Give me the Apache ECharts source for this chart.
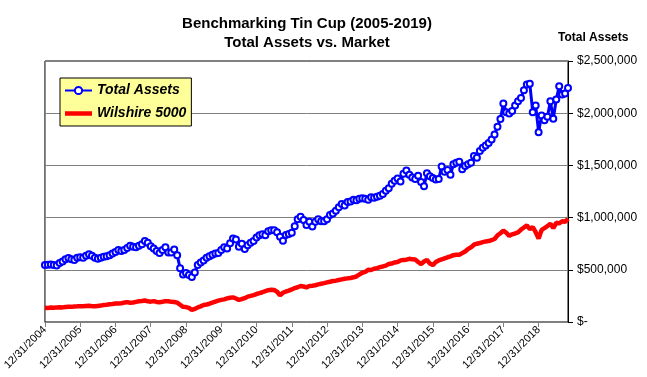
<!DOCTYPE html>
<html>
<head>
<meta charset="utf-8">
<script src="https://cdn.jsdelivr.net/npm/echarts@6/dist/echarts.min.js"></script>
<style>
  html, body { margin: 0; padding: 0; background: #fff; }
  #main { width: 647px; height: 377px; }
</style>
</head>
<body>
<div id="main"></div>
<script>
// month-end values, Dec 2004 .. Oct 2019, in thousands of dollars
var totalAssets = [
  546, 548, 550, 545, 540, 565, 580, 600, 612, 600, 595, 615,
  620, 615, 635, 648, 635, 615, 605, 615, 625, 630, 640, 655,
  670, 690, 680, 690, 710, 730, 720, 715, 730, 745, 775, 760,
  725, 705, 680, 660, 690, 715, 665, 665, 695, 640, 515, 455,
  470, 450, 430, 475, 545, 570, 590, 615, 630, 645, 655, 660,
  690, 715, 705, 755, 800, 790, 720, 750, 700, 735, 760, 775,
  810, 830, 840, 830, 870, 880, 880, 860, 817, 779, 833, 843,
  856, 918, 984, 1009, 977, 930, 960, 915, 960, 985, 965, 965,
  985, 1025, 1040, 1065, 1100, 1130, 1115, 1150, 1155, 1170, 1165, 1180,
  1185, 1180, 1170, 1195, 1190, 1200, 1210, 1225, 1258, 1280, 1325, 1354,
  1375, 1345, 1420, 1450, 1410, 1385, 1370, 1400, 1340, 1300, 1425, 1395,
  1380, 1365, 1370, 1490, 1440, 1455, 1410, 1510, 1525, 1535, 1462, 1494,
  1510, 1525, 1589, 1573, 1637, 1669, 1690, 1715, 1748, 1796, 1870, 1945,
  2092, 2010, 1997, 2020, 2073, 2115, 2146, 2220, 2274, 2283, 2010, 2073,
  1818, 1978, 1933, 1965, 2115, 1946, 2131, 2258, 2178, 2188, 2242
];
var wilshire = [
  137, 135, 138, 136, 140, 141, 140, 143, 146, 145, 149, 150,
  152, 150, 153, 156, 152, 151, 154, 157, 162, 165, 170, 172,
  177, 178, 180, 186, 190, 184, 187, 193, 198, 201, 206, 198,
  195, 200, 192, 189, 194, 200, 198, 193, 192, 185, 165, 145,
  143, 135, 115, 125, 140, 150, 163, 168, 175, 185, 195, 204,
  212, 217, 226, 232, 236, 225, 211, 220, 228, 243, 250, 258,
  268, 276, 285, 296, 305, 308, 306, 290, 255, 280, 292, 300,
  312, 325, 333, 345, 340, 332, 345, 348, 352, 360, 366, 372,
  380, 386, 392, 396, 402, 408, 414, 418, 422, 428, 436, 455,
  472, 480, 500, 498, 510, 516, 525, 532, 540, 555, 560, 570,
  575, 590, 595, 597, 605, 600, 598, 575, 555, 580, 595, 560,
  545, 575, 590, 600, 610, 620, 628, 640, 645, 644, 660, 676,
  700, 715, 740, 750, 756, 765, 772, 775, 785, 795, 830, 850,
  875, 855, 825, 840, 848, 858, 885, 905, 925, 890, 910, 860,
  800, 880, 900, 918, 942, 900, 950, 945, 965, 960, 987
];
var yTicks = [0, 500, 1000, 1500, 2000, 2500];

// month-end date labels
var months = [];
for (var k = 0; k < totalAssets.length; k++) {
  var m = (11 + k) % 12;
  var y = 2004 + Math.floor((11 + k) / 12);
  var d = new Date(y, m + 1, 0).getDate();
  months.push((m + 1) + '/' + d + '/' + y);
}

var font = 'Arial, "Liberation Sans", sans-serif';
var yearly = function (i) { return i % 12 === 0; };

var myChart = echarts.init(document.getElementById('main'));
var option = {
  backgroundColor: '#fff',
  animation: false,
  title: [
    {
      text: 'Benchmarking Tin Cup (2005-2019)\nTotal Assets vs. Market',
      left: 302,
      textAlign: 'center',
      top: 9,
      textStyle: { fontFamily: font, fontSize: 15, fontWeight: 'bold', color: '#000', lineHeight: 19 }
    },
    {
      text: 'Total Assets',
      left: 553,
      top: 27,
      textStyle: { fontFamily: font, fontSize: 12, fontWeight: 'bold', color: '#000' }
    }
  ],
  legend: {
    orient: 'vertical',
    left: 60,
    top: 78,
    backgroundColor: '#ffff99',
    borderColor: '#000',
    borderWidth: 1,
    borderRadius: 0,
    padding: [5, 5, 5, 4],
    itemWidth: 27,
    itemHeight: 9,
    itemGap: 8,
    textStyle: { fontFamily: font, fontSize: 14, fontWeight: 'bold', fontStyle: 'italic', color: '#000', lineHeight: 15 },
    data: [
      { name: 'Total Assets' },
      { name: 'Wilshire 5000', icon: 'path://M0,0H30V5H0Z' }
    ]
  },
  grid: {
    left: 44, right: 79, top: 61, bottom: 55,
    show: true, borderColor: '#000', borderWidth: 1
  },
  xAxis: {
    type: 'category',
    boundaryGap: false,
    data: months,
    axisLine: { lineStyle: { color: '#808080', width: 1 } },
    axisTick: { show: true, interval: yearly, length: 5, lineStyle: { color: '#808080' } },
    axisLabel: {
      interval: yearly,
      rotate: 45,
      margin: 6,
      fontFamily: font,
      fontSize: 11,
      color: '#000'
    },
    splitLine: { show: false }
  },
  yAxis: {
    type: 'value',
    position: 'right',
    min: yTicks[0],
    max: yTicks[yTicks.length - 1],
    interval: 500,
    axisLine: { show: true, lineStyle: { color: '#000', width: 1 } },
    axisTick: { show: true, length: 5, lineStyle: { color: '#000' } },
    axisLabel: {
      margin: 9,
      fontFamily: font,
      fontSize: 12,
      color: '#000',
      formatter: function (v) {
        return v === 0 ? '$-' : '$' + (v * 1000).toLocaleString('en-US');
      }
    },
    splitLine: { show: true, lineStyle: { color: '#808080', width: 1 } }
  },
  series: [
    {
      name: 'Wilshire 5000',
      type: 'line',
      data: wilshire,
      symbol: 'none',
      lineStyle: { color: '#ff0000', width: 4.5 },
      itemStyle: { color: '#ff0000' },
      z: 2
    },
    {
      name: 'Total Assets',
      type: 'line',
      data: totalAssets,
      symbol: 'emptyCircle',
      symbolSize: 6,
      showAllSymbol: true,
      lineStyle: { color: '#0000ff', width: 3 },
      itemStyle: { color: '#0000ff', borderWidth: 1.2 },
      z: 3
    }
  ]
};
myChart.setOption(option);
</script>
</body>
</html>
